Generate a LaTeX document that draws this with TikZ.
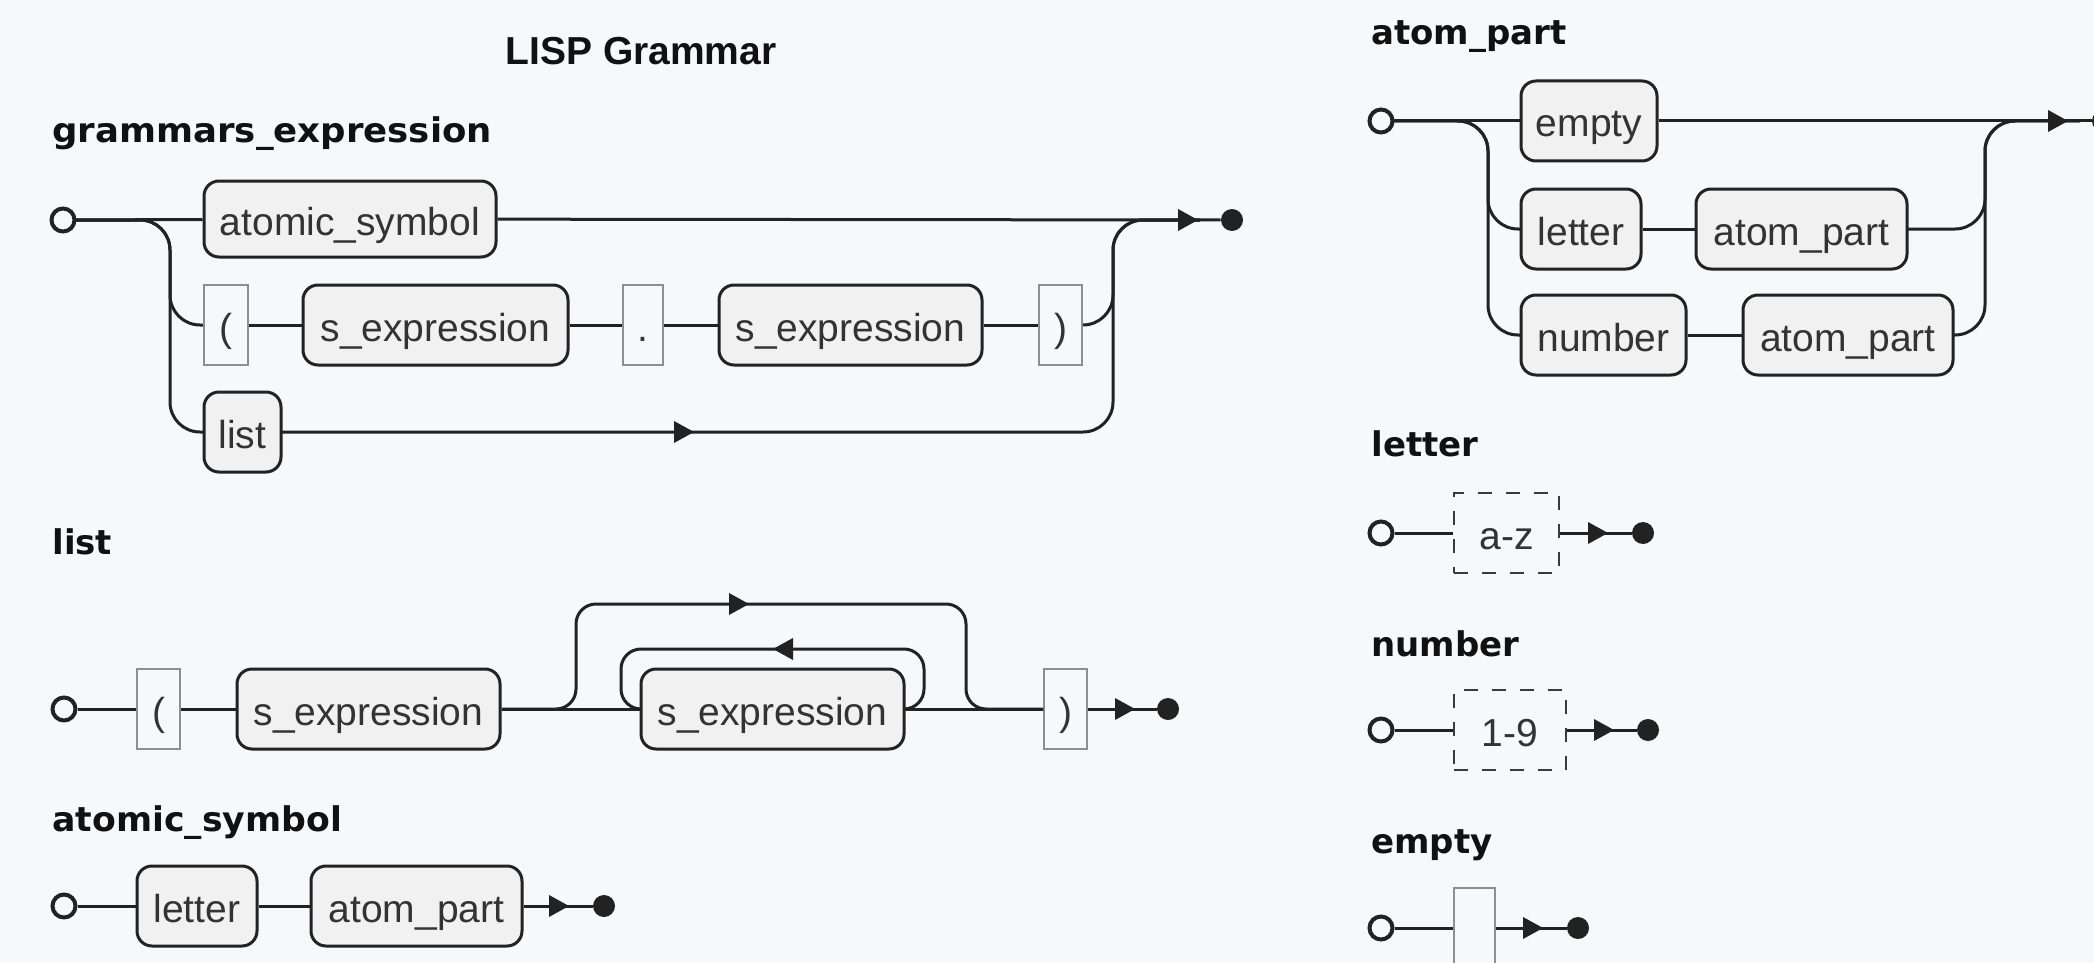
\documentclass[tikz,border=0pt]{standalone}
\usepackage{fontspec}
\newfontfamily\nodefam{Liberation Sans}
\newfontfamily\labfam{DejaVu Sans}
\newfontfamily\titfam{Liberation Sans}
\definecolor{bgc}{HTML}{F7F8FA}
\definecolor{ntfill}{HTML}{F1F1F1}
\definecolor{linec}{HTML}{222222}
\definecolor{termc}{HTML}{8E8E8E}
\definecolor{dashc}{HTML}{3A3A3A}
\definecolor{textc}{HTML}{333333}
\definecolor{labc}{HTML}{111111}
\begin{document}
\begin{tikzpicture}[x=0.5pt,y=-0.5pt,
  conn/.style={draw=linec, line width=1.5pt},
  rconn/.style={conn, rounded corners=15pt},
  sconn/.style={conn, rounded corners=10pt},
  boxtext/.style={inner sep=0pt, minimum height=40pt, text height=18pt, text depth=2pt,
    font=\nodefam\fontsize{19.5pt}{22pt}\selectfont, text=textc},
  nt/.style={boxtext, draw=linec, line width=1.5pt, fill=ntfill, rounded corners=7.5pt},
  term/.style={boxtext, draw=termc, line width=0.75pt, fill=bgc},
  dterm/.style={boxtext, draw=dashc, line width=1pt, dash pattern=on 7pt off 7pt, fill=bgc},
  startc/.style={circle, draw=linec, line width=2pt, fill=bgc, minimum size=11.5pt, inner sep=0pt},
  endc/.style={circle, fill=linec, minimum size=11pt, inner sep=0pt},
  lbl/.style={anchor=base west, inner sep=0pt, font=\labfam\bfseries\fontsize{17pt}{20pt}\selectfont, text=labc},
  ttl/.style={anchor=base, inner sep=0pt, font=\titfam\bfseries\fontsize{19.5pt}{22pt}\selectfont, text=labc},
  arr/.pic={\fill[linec] (-10,-11) -- (10,0) -- (-10,11) -- cycle;}
]
\fill[bgc] (0,0) rectangle (2094,963);
\useasboundingbox (0,0) rectangle (2094,963);
\clip (0,0) rectangle (2094,963);

% ---------- titles and labels
\node[ttl] (title) at (641,65) {LISP Grammar};
\node[lbl] (lg) at (52,142) {\scalebox{1.045}[1]{grammars\_expression}};
\node[lbl] (ll) at (52,554) {list};
\node[lbl] (la) at (52,831) {\scalebox{1.02}[1]{atomic\_symbol}};
\node[lbl] (lp) at (1371,45) {atom\_part};
\node[lbl] (lle) at (1371,456) {letter};
\node[lbl] (ln) at (1371,656) {number};
\node[lbl] (le) at (1371,853) {empty};

% ---------- grammars_expression
\coordinate (b1) at (170,220);
\coordinate (m1) at (1113,220);
\draw[rconn] (63,220) -- (b1) |- (204,325);
\draw[rconn] (63,220) -- (b1) |- (204,432);
\draw[rconn] (1082,325) -| (m1) -- (1200,220);
\draw[rconn] (281,432) -| (m1) -- (1200,220);
\node[startc] (s1) at (63,220) {};
\node[endc] (e1) at (1232,220) {};
\node[nt, minimum width=146pt, minimum height=38pt] (as1) at (350,219) {atomic\_symbol};
\node[term, minimum width=22pt] (lp1) at (226,325) {(};
\node[nt, minimum width=132.5pt] (se1) at (435.5,325) {s\_expression};
\node[term, minimum width=20pt] (dt1) at (643,325) {.};
\node[nt, minimum width=131.5pt] (se2) at (850.5,325) {s\_expression};
\node[term, minimum width=21.5pt] (rp1) at (1060.5,325) {)};
\node[nt, minimum width=38.5pt] (ls1) at (242.5,432) {list};
\draw[conn] (s1) -- (as1);
\draw[conn] (as1) -- (e1);
\draw[conn] (lp1) -- (se1);
\draw[conn] (se1) -- (dt1);
\draw[conn] (dt1) -- (se2);
\draw[conn] (se2) -- (rp1);
\pic at (1188,220) {arr};
\pic at (684,432) {arr};

% ---------- list
\node[startc] (s2) at (64,709) {};
\node[term, minimum width=21.5pt] (lp2) at (158.5,709) {(};
\node[nt, minimum width=131.5pt] (se3) at (368.5,709) {s\_expression};
\node[nt, minimum width=131.5pt] (se4) at (772.5,709) {s\_expression};
\node[term, minimum width=21.5pt] (rp2) at (1065.5,709) {)};
\node[endc] (e2) at (1168,709) {};
\coordinate (o1) at (576,604);
\coordinate (o2) at (966,709);
\coordinate (i1) at (924,649);
\coordinate (i2) at (621,709);
\draw[conn] (s2) -- (lp2);
\draw[conn] (lp2) -- (se3);
\draw[conn] (se3) -- (se4);
\draw[conn] (se4) -- (rp2);
\draw[conn] (rp2) -- (e2);
\draw[sconn] (se3.east) -| (o1) -| (o2) -- (rp2.west);
\draw[sconn] (se4.east) -| (i1) -| (i2) -- (se4.west);
\pic at (739,604) {arr};
\pic[rotate=180] at (783,649) {arr};
\pic at (1125,709) {arr};

% ---------- atomic_symbol
\node[startc] (s3) at (64,906) {};
\node[nt, minimum width=60pt] (lt1) at (197,906) {letter};
\node[nt, minimum width=105.5pt] (ap1) at (416.5,906) {atom\_part};
\node[endc] (e3) at (604,906) {};
\draw[conn] (s3) -- (lt1);
\draw[conn] (lt1) -- (ap1);
\draw[conn] (ap1) -- (e3);
\pic at (559,906) {arr};

% ---------- atom_part
\coordinate (b4) at (1488,121);
\coordinate (m4) at (1985,121);
\draw[rconn] (1381,121) -- (b4) |- (1521,229);
\draw[rconn] (1381,121) -- (b4) |- (1521,335);
\draw[rconn] (1907,229) -| (m4) -- (2080,121);
\draw[rconn] (1953,335) -| (m4) -- (2080,121);
\node[startc] (s4) at (1381,121) {};
\node[nt, minimum width=68pt] (em1) at (1589,121) {empty};
\node[nt, minimum width=60pt] (lt2) at (1581,229) {letter};
\node[nt, minimum width=105.5pt] (ap2) at (1801.5,229) {atom\_part};
\node[nt, minimum width=82.5pt] (nm1) at (1603.5,335) {number};
\node[nt, minimum width=105pt] (ap3) at (1848,335) {atom\_part};
\node[endc] (e4) at (2103,121) {};
\draw[conn] (s4) -- (em1);
\draw[conn] (em1) -- (e4);
\draw[conn] (lt2) -- (ap2);
\draw[conn] (nm1) -- (ap3);
\pic at (2058,121) {arr};

% ---------- letter
\node[startc] (s5) at (1381,533) {};
\node[dterm, minimum width=52.5pt] (az) at (1506.5,533) {a-z};
\node[endc] (e5) at (1643,533) {};
\draw[conn] (s5) -- (az);
\draw[conn] (az) -- (e5);
\pic at (1598,533) {arr};

% ---------- number
\node[startc] (s6) at (1381,730) {};
\node[dterm, minimum width=56pt] (n19) at (1510,730) {1-9};
\node[endc] (e6) at (1648,730) {};
\draw[conn] (s6) -- (n19);
\draw[conn] (n19) -- (e6);
\pic at (1604,730) {arr};

% ---------- empty
\node[startc] (s7) at (1381,928) {};
\node[term, minimum width=20.5pt] (eb) at (1474.5,928) {};
\node[endc] (e7) at (1578,928) {};
\draw[conn] (s7) -- (eb);
\draw[conn] (eb) -- (e7);
\pic at (1533,928) {arr};
\end{tikzpicture}
\end{document}
